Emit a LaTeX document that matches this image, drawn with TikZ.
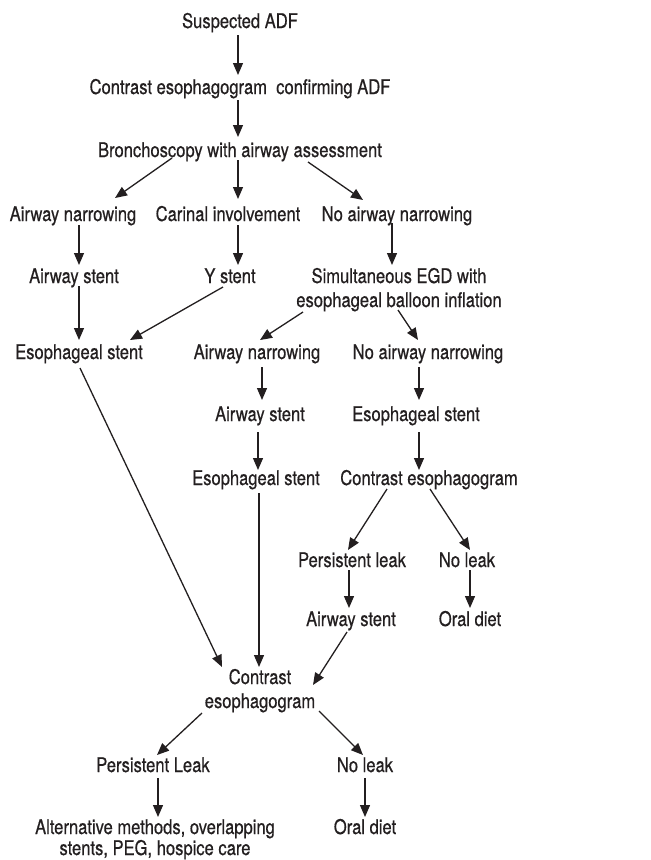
\documentclass[tikz,border=0pt]{standalone}
\usepackage{fontspec}
\setmainfont[FakeStretch=0.82,FakeBold=0.5]{TeX Gyre Heros}
\usetikzlibrary{arrows.meta,calc}
\definecolor{ink}{HTML}{231F20}
\newcommand\twoline[2]{\vtop{\halign{\hfil##\hfil\cr#1\cr#2\cr}}}
\newcommand\conn[4]{\draw[arr] ($(#1.base)+(#2)$) -- ($(#3.base)+(#4)$);}
\begin{document}
\begin{tikzpicture}[x=1pt,y=-1pt,
  lbl/.style={anchor=base,inner sep=0pt,text=ink,font=\fontsize{20.2}{24}\selectfont},
  arr/.style={draw=ink,line width=1.3pt,-{Triangle[length=12pt,width=10pt]}}]
\useasboundingbox (0,0) rectangle (651,860);
\fill[white] (0,0) rectangle (651,860);
% nodes (base points)
\node[lbl] (sus) at (240,28) {Suspected ADF};
\node[lbl] (cec) at (240,94) {Contrast esophagogram\ \ confirming ADF};
\node[lbl] (bro) at (240,157) {Bronchoscopy with airway assessment};
\node[lbl] (an1) at (73,221) {Airway narrowing};
\node[lbl] (car) at (228,221) {Carinal involvement};
\node[lbl] (nan1) at (397,221) {No airway narrowing};
\node[lbl] (as1) at (74,283) {Airway stent};
\node[lbl] (ys) at (230,283) {Y stent};
\node[lbl] (sim) at (399,283) {\twoline{Simultaneous EGD with}{esophageal balloon inflation}};
\node[lbl] (es1) at (79,359) {Esophageal stent};
\node[lbl] (an2) at (257,359) {Airway narrowing};
\node[lbl] (nan2) at (428,359) {No airway narrowing};
\node[lbl] (as2) at (260,421) {Airway stent};
\node[lbl] (es2) at (416,421) {Esophageal stent};
\node[lbl] (es3) at (256,485) {Esophageal stent};
\node[lbl] (ce2) at (429,485) {Contrast esophagogram};
\node[lbl] (pl1) at (352,567) {Persistent leak};
\node[lbl] (nl1) at (467,567) {No leak};
\node[lbl] (as3) at (351,626) {Airway stent};
\node[lbl] (od1) at (470,626) {Oral diet};
\node[lbl] (ce3) at (260,684) {\twoline{Contrast}{esophagogram}};
\node[lbl] (pl2) at (153,772) {Persistent Leak};
\node[lbl] (nl2) at (365,772) {No leak};
\node[lbl,font=\fontsize{20.2}{21}\selectfont] (alt) at (155,834) {\twoline{Alternative methods, overlapping}{stents, PEG, hospice care}};
\node[lbl] (od2) at (365,834) {Oral diet};
% connectors
\conn{sus}{-2,7}{cec}{-2,-19}
\conn{cec}{-2,6}{bro}{-2,-20}
\conn{bro}{-68,1}{an1}{42,-23}
\conn{bro}{-2,3}{car}{10,-22}
\conn{bro}{68,5}{nan1}{-34,-21}
\conn{an1}{6,4}{as1}{5,-18}
\conn{car}{10,4}{ys}{8,-18}
\conn{nan1}{-5,2}{sim}{-7,-18}
\conn{as1}{5,3}{es1}{0,-19}
\conn{ys}{-7,4}{es1}{51,-19}
\conn{sim}{-96,29}{an2}{3,-19}
\conn{sim}{-1,27}{nan2}{-10,-19}
\conn{es1}{1,9}{ce3}{-38,-17}
\conn{an2}{5,8}{as2}{2,-21}
\conn{nan2}{-9,8}{es2}{3,-21}
\conn{as2}{-2,11}{es3}{2,-15}
\conn{es2}{3,11}{ce2}{-10,-15}
\conn{es3}{3,8}{ce3}{-1,-17}
\conn{ce2}{-42,4}{pl1}{-4,-17}
\conn{ce2}{1,4}{nl1}{3,-17}
\conn{pl1}{-3,3}{as3}{-2,-18}
\conn{nl1}{3,3}{od1}{0,-18}
\conn{as3}{-4,6}{ce3}{53,1}
\conn{ce3}{-58,29}{pl2}{4,-17}
\conn{ce3}{59,27}{nl2}{-2,-17}
\conn{pl2}{5,6}{alt}{3,-17}
\conn{nl2}{0,6}{od2}{0,-17}
\end{tikzpicture}
\end{document}
